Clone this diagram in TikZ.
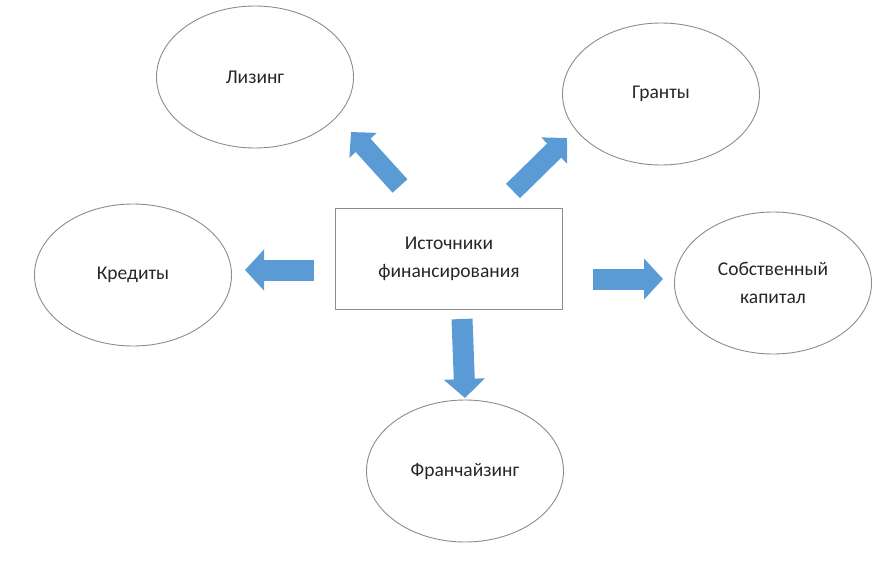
\documentclass[tikz,border=0pt]{standalone}
\usepackage{fontspec}
\setmainfont{Carlito}
\usetikzlibrary{arrows.meta,shapes.geometric}
\definecolor{arrowblue}{HTML}{5B9BD5}
\definecolor{linegray}{HTML}{8C8C8C}
\definecolor{txt}{HTML}{262626}
\begin{document}
\begin{tikzpicture}[x=1pt,y=-1pt,
  oval/.style={draw=linegray, line width=0.9pt, ellipse, inner sep=0pt, minimum width=197pt, minimum height=142pt, text=txt, font=\fontsize{19.5}{28}\selectfont, align=center},
  srcbox/.style={draw=linegray, line width=1pt, rectangle, minimum width=227pt, minimum height=101pt, text=txt, font=\fontsize{19.5}{28}\selectfont, align=center},
  blockarrow/.style={line width=21pt, draw=arrowblue, -{Triangle[width=40pt,length=19pt]}}
]
\useasboundingbox (0,0) rectangle (877,560);
\node[srcbox] (src) at (449,259) {Источники\\финансирования};
\node[oval] (lizing) at (255,77) {Лизинг};
\node[oval] (granty) at (661,94) {Гранты};
\node[oval] (kredity) at (133,275) {Кредиты};
\node[oval] (kapital) at (773,283) {Собственный\\капитал};
\node[oval] (franch) at (465,471) {Франчайзинг};
\coordinate (l0) at (314,270);
\coordinate (l1) at (245,270);
\coordinate (r0) at (593,279);
\coordinate (r1) at (663,279);
\coordinate (d0) at (462,319);
\coordinate (d1) at (465,398);
\coordinate (ul0) at (400,186);
\coordinate (ul1) at (351,132);
\coordinate (ur0) at (513,191);
\coordinate (ur1) at (567,138);
\draw[blockarrow] (l0) -- (l1);
\draw[blockarrow] (r0) -- (r1);
\draw[blockarrow] (d0) -- (d1);
\draw[blockarrow, line width=20pt, -{Triangle[width=36pt,length=18pt]}] (ul0) -- (ul1);
\draw[blockarrow, line width=20pt, -{Triangle[width=36pt,length=18pt]}] (ur0) -- (ur1);
\end{tikzpicture}
\end{document}
